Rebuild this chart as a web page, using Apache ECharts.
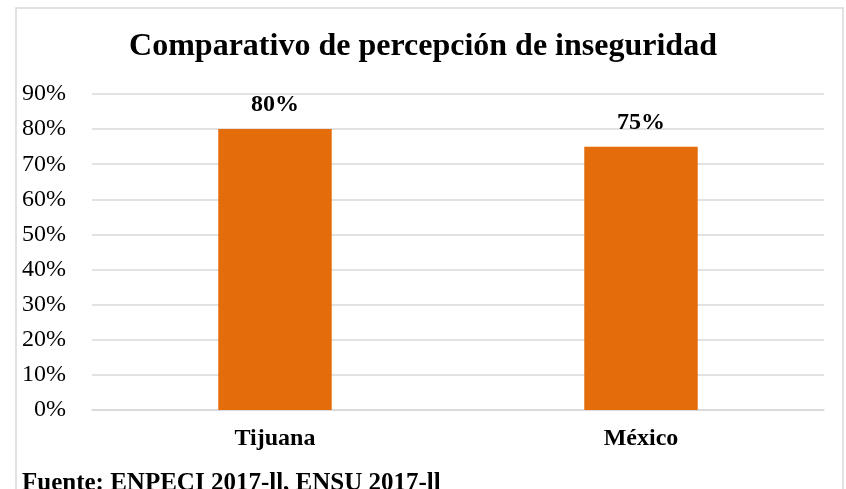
<!DOCTYPE html>
<html><head><meta charset="utf-8">
<script src="https://cdn.jsdelivr.net/npm/echarts@6/dist/echarts.min.js"></script>
<style>html,body{margin:0;padding:0;background:#fff}#c{width:846px;height:489px}</style>
</head><body><div id="c"></div>
<script>
var categories = ['Tijuana', 'México'];
var values = [80, 75];
var yTicks = {min: 0, max: 90, interval: 10};
var titleText = 'Comparativo de percepción de inseguridad';
var sourceText = 'Fuente: ENPECI 2017-ll, ENSU 2017-ll';

var chart = echarts.init(document.getElementById('c'));
var serif = '"Liberation Serif","Times New Roman",serif';
chart.setOption({
  animation: false,
  backgroundColor: '#fff',
  graphic: [{
    type: 'rect', shape: {x: 16, y: 8, width: 827, height: 500},
    style: {fill: 'none', stroke: '#d9d9d9', lineWidth: 1.5}, silent: true
  }],
  title: [{
    text: titleText, left: 'center', top: 26,
    textStyle: {fontFamily: serif, fontWeight: 'bold', fontSize: 32, color: '#000'}
  }, {
    text: sourceText, left: 17, top: 466,
    textStyle: {fontFamily: serif, fontWeight: 'bold', fontSize: 25, color: '#000'}
  }],
  grid: {left: 92, right: 22, top: 94, bottom: 79},
  xAxis: {
    type: 'category', data: categories,
    axisLine: {lineStyle: {color: '#d9d9d9', width: 1.5}},
    axisTick: {show: false},
    axisLabel: {fontFamily: serif, fontWeight: 'bold', fontSize: 24, color: '#000', margin: 17}
  },
  yAxis: {
    type: 'value', min: yTicks.min, max: yTicks.max, interval: yTicks.interval,
    axisLabel: {formatter: '{value}%', fontFamily: serif, fontSize: 24, color: '#000', margin: 26},
    splitLine: {lineStyle: {color: '#d9d9d9', width: 1.5}},
    axisLine: {show: false}, axisTick: {show: false}
  },
  series: [{
    type: 'bar', data: values, barWidth: '31%',
    itemStyle: {color: '#E46C0A'},
    label: {show: true, position: 'top', distance: 12, formatter: '{c}%',
      fontFamily: serif, fontWeight: 'bold', fontSize: 24, color: '#000'}
  }]
});
</script></body></html>
